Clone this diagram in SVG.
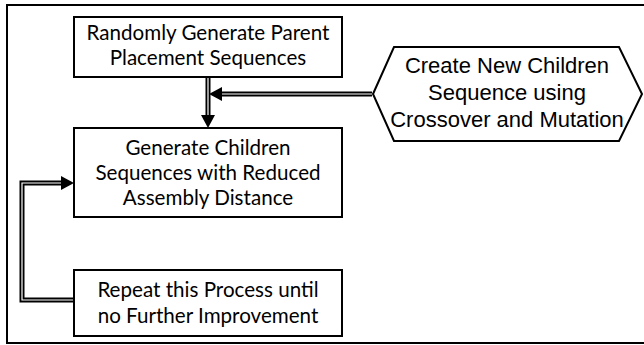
<svg xmlns="http://www.w3.org/2000/svg" width="644" height="345" viewBox="0 0 644 345">
<defs>
<style>
.box{fill:#fff;stroke:#000;stroke-width:2}
.t{font-family:Lato,"Open Sans","Liberation Sans",sans-serif;font-size:20.6px;fill:#000;text-anchor:middle}
.h{font-family:"Liberation Sans",Arial,sans-serif;font-size:22px;fill:#000;text-anchor:middle}
.outer{fill:none;stroke:#000;stroke-width:5}
.inner{fill:none;stroke:#fff;stroke-width:1.2}
.head{fill:#000}
</style>
</defs>
<rect x="0" y="0" width="644" height="345" fill="#fff"/>
<rect x="7" y="5" width="645" height="338" fill="none" stroke="#000" stroke-width="2"/>
<g id="connectors">
<path class="outer" d="M208 77 V116 M372 94 H220 M74 300 H22 V183 H62"/>
<path class="inner" d="M208 77 V116 M372 94 H220 M74 300 H22 V183 H62"/>
<polygon class="head" points="201,115 215,115 208,128"/>
<polygon class="head" points="222,87 222,101 209,94"/>
<polygon class="head" points="61,176 61,190 74,183"/>
</g>
<g id="node-parent">
<rect class="box" x="74" y="17" width="268" height="60"/>
<text class="t" x="208" y="40">Randomly Generate Parent</text>
<text class="t" x="208" y="65">Placement Sequences</text>
</g>
<g id="node-children">
<rect class="box" x="74" y="128" width="268" height="89"/>
<text class="t" x="208" y="155">Generate Children</text>
<text class="t" x="208" y="180">Sequences with Reduced</text>
<text class="t" x="208" y="205">Assembly Distance</text>
</g>
<g id="node-repeat">
<rect class="box" x="74" y="270" width="268" height="66"/>
<text class="t" x="208" y="297">Repeat this Process until</text>
<text class="t" x="208" y="323">no Further Improvement</text>
</g>
<g id="node-crossover">
<polygon class="box" points="373,94 394,47 619,47 642,94 619,141 394,141"/>
<text class="h" x="507" y="73">Create New Children</text>
<text class="h" x="507" y="100">Sequence using</text>
<text class="h" x="507" y="127">Crossover and Mutation</text>
</g>
</svg>
